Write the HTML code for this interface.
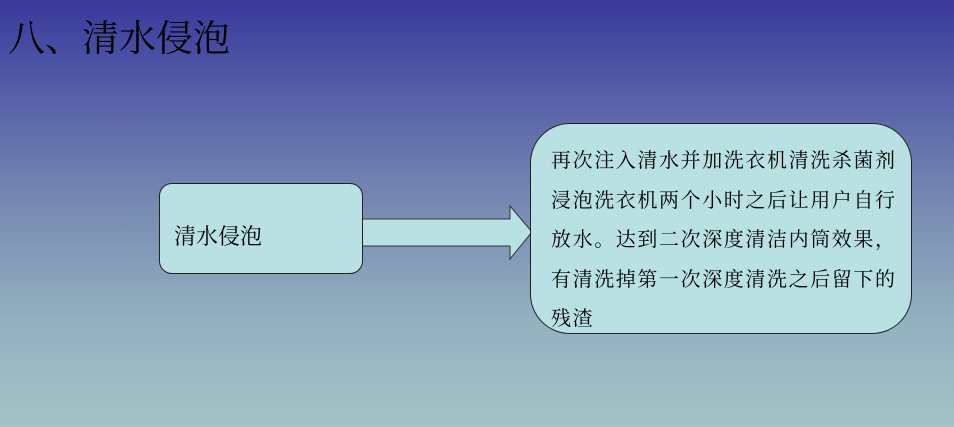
<!DOCTYPE html>
<html><head><meta charset="utf-8"><style>
body{margin:0;width:954px;height:427px;overflow:hidden;position:relative;
background:linear-gradient(to bottom,#38399c 0%,#5a64aa 25%,#7a8db3 50%,#93b0bf 75%,#a2c4c6 100%);
font-family:"Liberation Serif","Noto Serif CJK SC",serif;}
.t{position:absolute;left:8px;top:17px;font-size:37px;line-height:46px;color:#000;}
.b1{position:absolute;left:159px;top:183px;width:202px;height:89px;border:1px solid #222;border-radius:13px;background:#b9e0e3;}
.b1 span{position:absolute;left:14px;top:40px;font-size:22px;line-height:26px;white-space:nowrap;}
.b2{position:absolute;left:530px;top:123px;width:380px;height:209px;border:1px solid #222;border-radius:40px;background:#b9e0e3;}
.b2 div{position:absolute;left:20px;top:18px;width:370px;font-size:20px;letter-spacing:1.6px;line-height:39.5px;white-space:nowrap;}
</style></head><body>
<div class="t">八、清水侵泡</div>
<svg style="position:absolute;left:0;top:0" width="954" height="427">
<polygon points="362,219 510,219 510,206 532,232 510,259 510,246 362,246" fill="#b9e0e3" stroke="#333" stroke-width="1"/>
</svg>
<div class="b1"><span>清水侵泡</span></div>
<div class="b2"><div>再次注入清水并加洗衣机清洗杀菌剂<br>浸泡洗衣机两个小时之后让用户自行<br>放水。达到二次深度清洁内筒效果，<br>有清洗掉第一次深度清洗之后留下的<br>残渣</div></div>
</body></html>
